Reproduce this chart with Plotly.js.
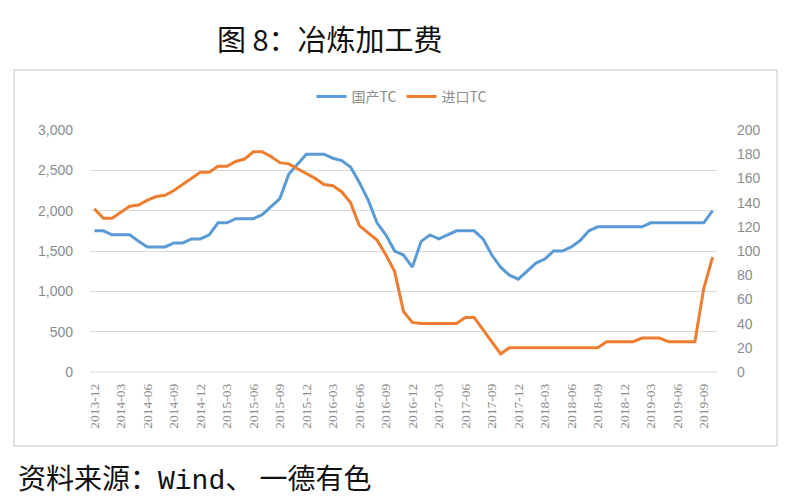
<!DOCTYPE html>
<html>
<head>
<meta charset="utf-8">
<script src="https://cdn.plot.ly/plotly-3.0.1.min.js"></script>
<style>html,body{margin:0;padding:0;background:#fff;}#chart{width:800px;height:500px;}</style>
</head>
<body>
<div id="chart"></div>
<script>
const months = [
 "2013-12",
 "2014-01","2014-02","2014-03","2014-04","2014-05","2014-06","2014-07","2014-08","2014-09","2014-10","2014-11","2014-12",
 "2015-01","2015-02","2015-03","2015-04","2015-05","2015-06","2015-07","2015-08","2015-09","2015-10","2015-11","2015-12",
 "2016-01","2016-02","2016-03","2016-04","2016-05","2016-06","2016-07","2016-08","2016-09","2016-10","2016-11","2016-12",
 "2017-01","2017-02","2017-03","2017-04","2017-05","2017-06","2017-07","2017-08","2017-09","2017-10","2017-11","2017-12",
 "2018-01","2018-02","2018-03","2018-04","2018-05","2018-06","2018-07","2018-08","2018-09","2018-10","2018-11","2018-12",
 "2019-01","2019-02","2019-03","2019-04","2019-05","2019-06","2019-07","2019-08","2019-09","2019-10"
];
const tickLabels = ["2013-12","2014-03","2014-06","2014-09","2014-12","2015-03","2015-06","2015-09","2015-12","2016-03","2016-06","2016-09","2016-12","2017-03","2017-06","2017-09","2017-12","2018-03","2018-06","2018-09","2018-12","2019-03","2019-06","2019-09"];
const domesticTC = [
 1750,
 1750,1700,1700,1700,1620,1550,1550,1550,1600,1600,1650,1650,
 1700,1850,1850,1900,1900,1900,1950,2050,2150,2450,2570,2700,
 2700,2700,2650,2620,2540,2350,2130,1850,1700,1500,1450,1300,
 1620,1700,1650,1700,1750,1750,1750,1650,1450,1300,1200,1150,
 1250,1350,1400,1500,1500,1550,1630,1750,1800,1800,1800,1800,
 1800,1800,1850,1850,1850,1850,1850,1850,1850,2000
];
const importTC = [
 135,
 127,127,132,137,138,142,145,146,150,155,160,165,
 165,170,170,174,176,182,182,178,173,172,168,164,
 160,155,154,149,140,121,115,109,97,83,50,41,
 40,40,40,40,40,45,45,35,25,15,20,20,
 20,20,20,20,20,20,20,20,20,25,25,25,
 25,28,28,28,25,25,25,25,69,95
];
const names = ["国产TC","进口TC"];
const colors = ["#5b9bd5","#ed7d31"];

const traces = [
 {x: months, y: domesticTC, name: names[0], type: "scatter", mode: "lines",
  line: {color: colors[0], width: 3}, yaxis: "y"},
 {x: months, y: importTC, name: names[1], type: "scatter", mode: "lines",
  line: {color: colors[1], width: 3}, yaxis: "y2"}
];

const L = 90, R = 717, T = 130, B = 372;
const pw = R - L, ph = B - T;
const px = v => (v - L) / pw;
const py = v => (B - v) / ph;

const layout = {
 width: 800, height: 500,
 margin: {l: L, r: 800 - R, t: T, b: 500 - B, pad: 0},
 paper_bgcolor: "#ffffff", plot_bgcolor: "#ffffff",
 showlegend: true,
 legend: {orientation: "h", x: px(402), xanchor: "center", y: py(97), yanchor: "middle",
  font: {family: "Noto Sans CJK SC, sans-serif", size: 14, color: "#8c8c8c"},
  tracegroupgap: 0, bgcolor: "rgba(0,0,0,0)"},
 xaxis: {type: "category", range: [-0.5, months.length - 0.5],
  tickmode: "array", tickvals: tickLabels, ticktext: tickLabels,
  tickangle: -90, showgrid: false, zeroline: false, showline: false,
  ticks: "", ticklabelstandoff: 8,
  tickfont: {family: "Liberation Serif, serif", size: 13.5, color: "#8c8c8c"}},
 yaxis: {range: [0, 3000], dtick: 500, tickformat: ",", showgrid: true,
  gridcolor: "#d9d9d9", gridwidth: 1, zeroline: false, showline: false, ticks: "",
  tickfont: {family: "Liberation Sans, sans-serif", size: 14, color: "#8c8c8c"}, ticklabelstandoff: 16},
 yaxis2: {range: [0, 200], dtick: 20, overlaying: "y", side: "right", showgrid: false,
  zeroline: false, showline: false, ticks: "",
  tickfont: {family: "Liberation Sans, sans-serif", size: 14, color: "#8c8c8c"}, ticklabelstandoff: 19},
 shapes: [
  {type: "line", xref: "paper", yref: "paper", x0: 0, x1: 1, y0: 0, y1: 0,
   line: {color: "#d9d9d9", width: 1}},
  {type: "rect", xref: "paper", yref: "paper", x0: px(14), x1: px(777), y0: py(446), y1: py(70),
   line: {color: "#d9d9d9", width: 1.5}, fillcolor: "rgba(0,0,0,0)", layer: "below"}
 ],
 annotations: [
  {text: "图 8：冶炼加工费", xref: "paper", yref: "paper", x: px(330), y: py(38),
   xanchor: "center", yanchor: "middle", showarrow: false,
   font: {family: "Noto Sans CJK SC, sans-serif", size: 29, color: "#111111"}},
  {text: "资料来源：<span style=\"font-family:'Liberation Mono',monospace\">Wind</span>、 一德有色",
   xref: "paper", yref: "paper", x: px(16), y: py(477),
   xanchor: "left", yanchor: "middle", showarrow: false,
   font: {family: "Noto Sans CJK SC, sans-serif", size: 28, color: "#111111"}}
 ]
};

Plotly.newPlot("chart", traces, layout, {displayModeBar: false, staticPlot: true});
</script>
</body>
</html>
